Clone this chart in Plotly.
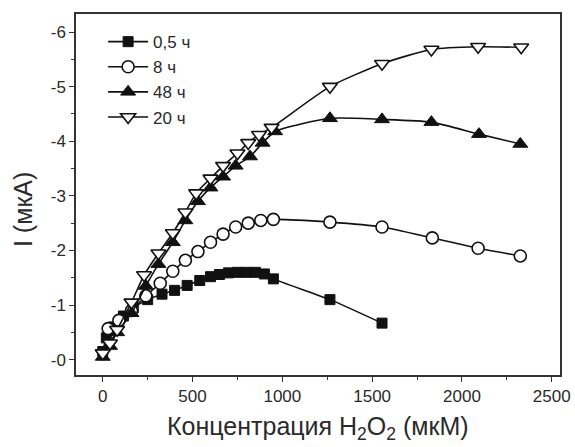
import plotly.graph_objects as go

# --- data (concentration in µM, current in µA) ---
x_05h = [0, 20, 60, 115, 170, 250, 330, 400, 470, 540, 600, 650, 700, 750, 800, 850, 900, 950, 1265, 1555]
y_05h = [-0.15, -0.4, -0.6, -0.8, -0.95, -1.1, -1.2, -1.27, -1.36, -1.45, -1.52, -1.56, -1.59, -1.6, -1.6, -1.6, -1.57, -1.48, -1.1, -0.67]

x_8h = [30, 90, 160, 240, 320, 390, 460, 530, 600, 670, 740, 810, 880, 950, 1265, 1555, 1835, 2090, 2325]
y_8h = [-0.57, -0.72, -0.9, -1.17, -1.4, -1.62, -1.82, -1.98, -2.15, -2.3, -2.43, -2.5, -2.55, -2.57, -2.52, -2.43, -2.23, -2.04, -1.9]

x_48h = [0, 40, 80, 160, 240, 310, 390, 460, 530, 600, 670, 740, 820, 890, 960, 1265, 1555, 1830, 2095, 2325]
y_48h = [-0.05, -0.25, -0.5, -0.85, -1.35, -1.75, -2.15, -2.55, -2.9, -3.15, -3.35, -3.55, -3.72, -3.97, -4.18, -4.42, -4.40, -4.35, -4.13, -3.95]

x_20h = [0, 40, 80, 160, 230, 310, 390, 460, 520, 600, 670, 750, 810, 870, 940, 1265, 1555, 1830, 2090, 2330]
y_20h = [-0.12, -0.3, -0.55, -1.05, -1.55, -1.95, -2.32, -2.7, -3.05, -3.32, -3.55, -3.78, -3.97, -4.12, -4.25, -5.0, -5.42, -5.68, -5.73, -5.72]

series_names = ["0,5 ч", "8 ч", "48 ч", "20 ч"]
y_tickvals = [-6, -5, -4, -3, -2, -1, 0]
y_ticktext = ["-6", "-5", "-4", "-3", "-2", "-1", "-0"]
x_tickvals = [0, 500, 1000, 1500, 2000, 2500]

FONT = "Liberation Sans, Arial, sans-serif"
TXT = "#2a2a2a"

fig = go.Figure()
styles = [
    (x_05h, y_05h, dict(symbol="square", size=10, color="#111", line=dict(color="#111", width=1))),
    (x_8h, y_8h, dict(symbol="circle", size=12, color="white", line=dict(color="#111", width=1.6))),
    (x_48h, y_48h, dict(symbol="triangle-up", size=13, color="#111", line=dict(color="#111", width=1))),
    (x_20h, y_20h, dict(symbol="triangle-down", size=13, color="white", line=dict(color="#111", width=1.6))),
]
for name, (xs, ys, mk) in zip(series_names, styles):
    fig.add_trace(go.Scatter(
        x=xs, y=ys, name=name, mode="lines+markers",
        line=dict(color="#111", width=1.6, shape="spline", smoothing=0.6),
        marker=mk,
    ))

fig.update_layout(
    width=575, height=447,
    margin=dict(l=76, r=15, t=14, b=72, autoexpand=False),
    paper_bgcolor="white", plot_bgcolor="white",
    font=dict(family=FONT, size=17, color=TXT),
    showlegend=True,
    legend=dict(x=0.056, y=0.972, xanchor="left", yanchor="top",
                bgcolor="rgba(0,0,0,0)", font=dict(size=17, color=TXT),
                itemwidth=40, tracegroupgap=0),
    annotations=[
        dict(text="I (мкА)", textangle=-90, xref="paper", yref="paper",
             x=-0.1095, y=0.457, xanchor="center", yanchor="middle",
             showarrow=False, font=dict(size=25, color=TXT)),
        dict(text="Концентрация H<sub>2</sub>O<sub>2</sub> (мкМ)",
             xref="paper", yref="paper", x=0.5, y=-0.146,
             xanchor="center", yanchor="middle",
             showarrow=False, font=dict(size=25, color=TXT)),
    ],
)
fig.update_xaxes(
    range=[-149, 2546], tickmode="array", tickvals=x_tickvals,
    ticks="outside", ticklen=5, tickwidth=1.2, tickcolor="#333",
    minor=dict(ticks="outside", ticklen=3, tickmode="array",
               tickvals=[250, 750, 1250, 1750, 2250], tickcolor="#333"),
    showline=True, linecolor="#333", linewidth=1.5, mirror=True,
    showgrid=False, zeroline=False, automargin=False,
    tickfont=dict(size=17, color=TXT),
)
fig.update_yaxes(
    range=[0.28, -6.33], tickmode="array", tickvals=y_tickvals, ticktext=y_ticktext,
    ticks="outside", ticklen=5, tickwidth=1.2, tickcolor="#333",
    minor=dict(ticks="outside", ticklen=3, tickmode="array",
               tickvals=[-5.5, -4.5, -3.5, -2.5, -1.5, -0.5], tickcolor="#333"),
    showline=True, linecolor="#333", linewidth=1.5, mirror=True,
    showgrid=False, zeroline=False, automargin=False,
    tickfont=dict(size=17, color=TXT),
)

fig.write_html("out.html")
